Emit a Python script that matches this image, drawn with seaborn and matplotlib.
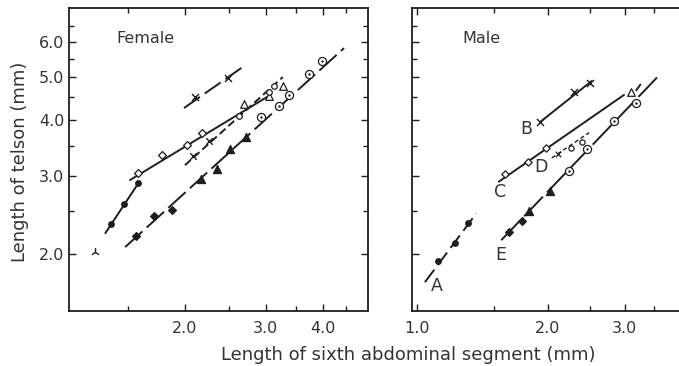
import numpy as np
import pandas as pd
import matplotlib
matplotlib.use("Agg")
import matplotlib.pyplot as plt
import seaborn as sns
from matplotlib.ticker import FixedLocator, NullFormatter, FixedFormatter

sns.set_theme(style="ticks")
plt.rcParams['font.family'] = ['DejaVu Sans']

# ---------------- Female panel data ----------------
f_circ_x = [1.379, 1.474, 1.577]
f_circ_y = [2.336, 2.591, 2.889]
f_circ_line_x = [1.34, 1.59]
f_circ_line_y = [2.23, 2.91]

f_diam_x = [1.577, 1.779, 2.023, 2.175]
f_diam_y = [3.038, 3.34, 3.52, 3.736]
f_otri_x = [2.696, 3.054, 3.27]
f_otri_y = [4.34, 4.53, 4.77]
f_diam_line_x = [1.517, 3.02]
f_diam_line_y = [2.935, 4.51]

f_xlow_x = [2.079, 2.26]
f_xlow_y = [3.32, 3.586]
f_scirc_x = [2.623, 3.054, 3.128]
f_scirc_y = [4.09, 4.64, 4.78]
f_xlow_line_x = [2.0, 3.27]
f_xlow_line_y = [3.17, 5.0]

f_xtop_x = [2.103, 2.479]
f_xtop_y = [4.50, 4.97]
f_xtop_line_x = [1.99, 2.71]
f_xtop_line_y = [4.26, 5.32]

f_fdiam_x = [1.566, 1.714, 1.876]
f_fdiam_y = [2.20, 2.436, 2.51]
f_ftri_x = [2.167, 2.346, 2.508, 2.718]
f_ftri_y = [2.945, 3.107, 3.446, 3.67]
f_dotc_x = [2.93, 3.21, 3.38, 3.74, 3.99]
f_dotc_y = [4.07, 4.31, 4.56, 5.08, 5.44]
f_low_line_x = [1.48, 4.45]
f_low_line_y = [2.074, 5.81]

f_odd_x = [1.272]
f_odd_y = [2.02]

# ---------------- Male panel data ----------------
m_A_x = [1.119, 1.226, 1.31]
m_A_y = [1.932, 2.114, 2.345]
m_A_line_x = [1.043, 1.369]
m_A_line_y = [1.73, 2.47]

m_B_x = [1.917, 2.297, 2.5]
m_B_y = [3.96, 4.62, 4.86]
m_B_line_x = [1.917, 2.52]
m_B_line_y = [3.96, 4.90]

m_C_x = [1.597, 1.797, 1.98]
m_C_y = [3.027, 3.227, 3.457]
m_C_tri_x = [3.096]
m_C_tri_y = [4.62]
m_C_line_x = [1.542, 2.99]
m_C_line_y = [2.91, 4.56]
m_C_tail_x = [3.19, 3.26]
m_C_tail_y = [4.67, 4.81]

m_D_xm_x = [2.104]
m_D_xm_y = [3.35]
m_D_c_x = [2.257, 2.392]
m_D_c_y = [3.46, 3.58]
m_D_line_x = [2.04, 2.486]
m_D_line_y = [3.29, 3.75]

m_E_fdiam_x = [1.625, 1.741]
m_E_fdiam_y = [2.245, 2.377]
m_E_ftri_x = [1.812, 2.025]
m_E_ftri_y = [2.503, 2.776]
m_E_dotc_x = [2.229, 2.464, 2.835, 3.178]
m_E_dotc_y = [3.075, 3.44, 3.99, 4.38]
m_E_line_x = [1.562, 3.56]
m_E_line_y = [2.15, 4.99]

panel_titles = ["Female", "Male"]
y_ticks = [2.0, 3.0, 4.0, 5.0, 6.0]
y_minor = [2.5, 3.5, 4.5, 5.5, 6.5]
f_x_ticks = [2.0, 3.0, 4.0]
f_x_minor = [1.5, 2.5, 3.5, 4.5]
m_x_ticks = [1.0, 2.0, 3.0]
m_x_minor = [1.5, 2.5, 3.5]

INK = "#1e1e1e"
TXT = "#333333"

W, H = 679, 366
fig = plt.figure(figsize=(W / 100, H / 100), dpi=100)
axF = fig.add_axes([69 / W, (H - 311) / H, (368 - 69) / W, (311 - 8) / H])
axM = fig.add_axes([412 / W, (H - 311) / H, (686 - 412) / W, (311 - 8) / H])


def line(ax, xs, ys, dashes=None, lw=1.4):
    d = pd.DataFrame({"x": xs, "y": ys})
    l = sns.lineplot(data=d, x="x", y="y", ax=ax, color=INK, lw=lw,
                     estimator=None, sort=False)
    if dashes is not None:
        l.lines[-1].set_dashes(dashes)


def pts(ax, xs, ys, marker, s, face, edge=INK, lw=0.9):
    d = pd.DataFrame({"x": xs, "y": ys})
    sns.scatterplot(data=d, x="x", y="y", ax=ax, marker=marker, s=s,
                    color=face, edgecolor=edge, linewidth=lw, zorder=5)


def dotcirc(ax, xs, ys, s=34):
    pts(ax, xs, ys, "o", s, "white")
    d = pd.DataFrame({"x": xs, "y": ys})
    sns.scatterplot(data=d, x="x", y="y", ax=ax, marker="o", s=3,
                    color=INK, edgecolor=INK, linewidth=0, zorder=6)


for ax in (axF, axM):
    ax.set_xscale("log")
    ax.set_yscale("log")

# Female
line(axF, f_circ_line_x, f_circ_line_y)
pts(axF, f_circ_x, f_circ_y, "o", 16, INK)
line(axF, f_diam_line_x, f_diam_line_y)
pts(axF, f_diam_x, f_diam_y, "D", 16, "white")
pts(axF, f_otri_x, f_otri_y, "^", 30, "white")
line(axF, f_xlow_line_x, f_xlow_line_y, dashes=(4, 2))
pts(axF, f_xlow_x, f_xlow_y, "x", 22, INK, lw=1.0)
pts(axF, f_scirc_x, f_scirc_y, "o", 16, "white")
line(axF, f_xtop_line_x, f_xtop_line_y, dashes=(10, 3))
pts(axF, f_xtop_x, f_xtop_y, "x", 26, INK, lw=1.0)
line(axF, f_low_line_x, f_low_line_y, dashes=(12, 3))
pts(axF, f_fdiam_x, f_fdiam_y, "D", 16, INK)
pts(axF, f_ftri_x, f_ftri_y, "^", 34, INK)
dotcirc(axF, f_dotc_x, f_dotc_y)
pts(axF, f_odd_x, f_odd_y, "2", 40, INK, lw=1.0)

# Male
line(axM, m_A_line_x, m_A_line_y, dashes=(8, 3))
pts(axM, m_A_x, m_A_y, "o", 16, INK)
line(axM, m_B_line_x, m_B_line_y)
pts(axM, m_B_x, m_B_y, "x", 26, INK, lw=1.0)
line(axM, m_C_line_x, m_C_line_y)
line(axM, m_C_tail_x, m_C_tail_y)
pts(axM, m_C_x, m_C_y, "D", 14, "white")
pts(axM, m_C_tri_x, m_C_tri_y, "^", 30, "white")
line(axM, m_D_line_x, m_D_line_y, dashes=(3, 2), lw=1.0)
pts(axM, m_D_xm_x, m_D_xm_y, "x", 16, INK, lw=0.9)
pts(axM, m_D_c_x, m_D_c_y, "o", 14, "white")
line(axM, m_E_line_x, m_E_line_y, dashes=(14, 3))
pts(axM, m_E_fdiam_x, m_E_fdiam_y, "D", 16, INK)
pts(axM, m_E_ftri_x, m_E_ftri_y, "^", 34, INK)
dotcirc(axM, m_E_dotc_x, m_E_dotc_y)

# letters on male panel
letters = ["A", "B", "C", "D", "E"]
letter_x = [1.11, 1.78, 1.555, 1.93, 1.555]
letter_y = [1.70, 3.83, 2.76, 3.14, 1.99]
for t, lx, ly in zip(letters, letter_x, letter_y):
    axM.text(lx, ly, t, fontsize=12.5, color=TXT, ha="center", va="center")

# axes styling
axF.set_xlim(1.116, 5.02)
axM.set_xlim(0.974, 4.15)
for ax in (axF, axM):
    ax.set_ylim(1.49, 7.15)
    ax.set_xlabel("")
    ax.set_ylabel("")
    for sp in ax.spines.values():
        sp.set_color(INK)
        sp.set_linewidth(1.3)
    ax.tick_params(which="both", direction="in", top=True, right=True,
                   color=INK, width=1.0, labelsize=11.5, labelcolor=TXT)
    ax.tick_params(which="major", length=5)
    ax.tick_params(which="minor", length=3.5)
    ax.yaxis.set_major_locator(FixedLocator(y_ticks))
    ax.yaxis.set_minor_locator(FixedLocator(y_minor))
    ax.yaxis.set_minor_formatter(NullFormatter())
    ax.xaxis.set_minor_formatter(NullFormatter())

axF.yaxis.set_major_formatter(FixedFormatter([f"{v:.1f}" for v in y_ticks]))
axF.xaxis.set_major_locator(FixedLocator(f_x_ticks))
axF.xaxis.set_minor_locator(FixedLocator(f_x_minor))
axF.xaxis.set_major_formatter(FixedFormatter([f"{v:.1f}" for v in f_x_ticks]))
axM.xaxis.set_major_locator(FixedLocator(m_x_ticks))
axM.xaxis.set_minor_locator(FixedLocator(m_x_minor))
axM.xaxis.set_major_formatter(FixedFormatter([f"{v:.1f}" for v in m_x_ticks]))
axM.yaxis.set_major_formatter(NullFormatter())
axM.spines["right"].set_visible(False)
axM.tick_params(which="both", right=False)
axF.tick_params(axis="x", pad=7)
axM.tick_params(axis="x", pad=7)

axF.text(0.16, 0.90, panel_titles[0], transform=axF.transAxes, fontsize=11.5,
         color=TXT, ha="left", va="center")
axM.text(0.185, 0.90, panel_titles[1], transform=axM.transAxes, fontsize=11.5,
         color=TXT, ha="left", va="center")

fig.text(20 / W, 1 - 162 / H, "Length of telson (mm)", rotation=90,
         fontsize=13, color=TXT, ha="center", va="center")
fig.text(408 / W, 1 - 355 / H, "Length of sixth abdominal segment (mm)",
         fontsize=13, color=TXT, ha="center", va="center")

fig.savefig("out.png", dpi=100)
